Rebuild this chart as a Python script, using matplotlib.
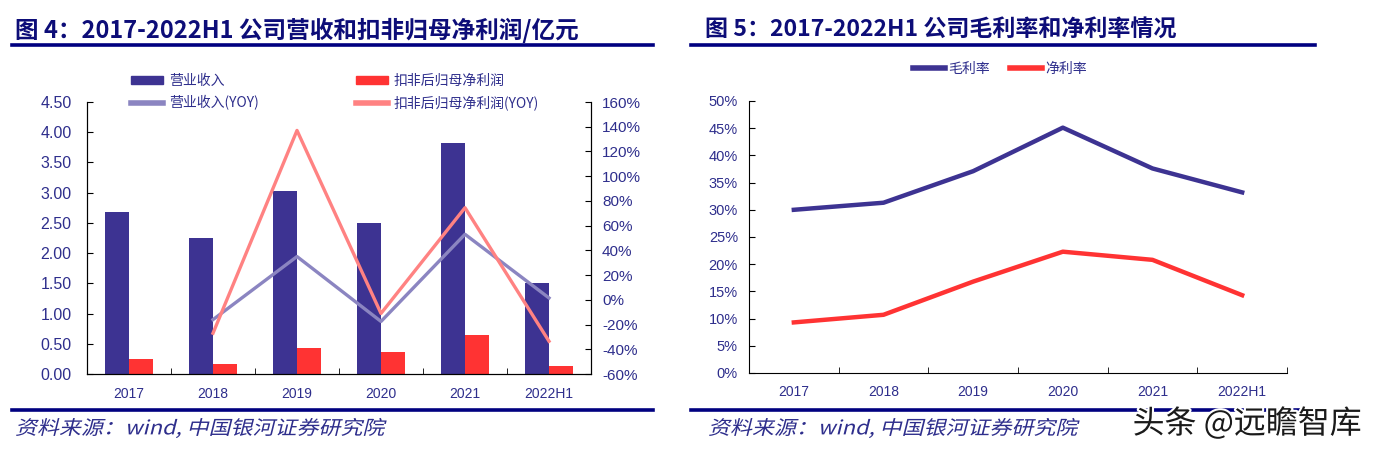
import numpy as np
import matplotlib
matplotlib.use("Agg")
import matplotlib.pyplot as plt
from matplotlib.ticker import FixedLocator, FuncFormatter
from matplotlib.lines import Line2D
from matplotlib.textpath import TextPath
from matplotlib.patches import PathPatch
from matplotlib.font_manager import FontProperties
from matplotlib.transforms import Affine2D, IdentityTransform
import matplotlib.patheffects as pe

plt.rcParams['font.family'] = ['Noto Sans CJK SC', 'DejaVu Sans']

# 数据
years = ['2017', '2018', '2019', '2020', '2021', '2022H1']
revenue = [2.68, 2.25, 3.03, 2.50, 3.82, 1.51]          # 营业收入 亿元
net_profit = [0.24, 0.17, 0.43, 0.37, 0.65, 0.14]       # 扣非后归母净利润 亿元
revenue_yoy = [np.nan, -16, 35, -17.5, 53, 1.5]         # %
profit_yoy = [np.nan, -27, 137, -11, 74.5, -33.5]       # %
gross_margin = [30.0, 31.3, 37.1, 45.1, 37.6, 33.2]     # %
net_margin = [9.3, 10.7, 16.8, 22.3, 20.8, 14.3]        # %

navy = '#3d3392'
red = '#ff3333'
light_navy = '#8b85c1'
light_red = '#ff8282'
txt = '#2e2e8c'
title_c = '#0d0d78'
rule_c = '#000080'
num_font = ['Liberation Sans Narrow', 'Liberation Sans', 'DejaVu Sans']

fig = plt.figure(figsize=(13.75, 4.49), dpi=100)
W, H = 1375.0, 449.0


def fx(px):
    return px / W


def fy(py):
    return 1 - py / H


def style_ticks(ax):
    for lab in ax.get_xticklabels() + ax.get_yticklabels():
        lab.set_family(num_font)
        lab.set_color(txt)


def italic_text(px, py, s, size, color, stretch=1.13):
    # 斜体：CJK字体没有italic，用剪切变换画
    tp = TextPath((0, 0), s, prop=FontProperties(family='Noto Sans CJK SC', size=size))
    k = 100 / 72.0
    tr = Affine2D().scale(k * stretch, k).skew_deg(14, 0).translate(px, H - py - size * k * 0.38)
    fig.add_artist(PathPatch(tp, transform=tr + IdentityTransform(), color=color, lw=0))


x = np.arange(len(years))

# ---------- 图4 ----------
ax1 = fig.add_axes([fx(87), fy(374), fx(591) - fx(87), fy(102) - fy(374)])
bw = 0.29
ax1.bar(x - bw / 2, revenue, bw, color=navy, label='营业收入', zorder=2)
ax1.bar(x + bw / 2, net_profit, bw, color=red, label='扣非后归母净利润', zorder=2)
ax1.set_xlim(-0.5, 5.5)
ax1.set_ylim(0, 4.5)
ax1.set_yticks(np.arange(0, 4.51, 0.5))
ax1.yaxis.set_major_formatter(FuncFormatter(lambda v, p: '%.2f' % v))
ax1.set_xticks(x)
ax1.set_xticklabels(years)
ax1.xaxis.set_minor_locator(FixedLocator(np.arange(0.5, 5, 1)))
ax1.tick_params(axis='x', which='major', length=0, pad=9, labelsize=10)
ax1.tick_params(axis='x', which='minor', direction='in', length=4)
ax1.tick_params(axis='y', direction='in', length=4, labelsize=11.5, pad=11)
ax1.spines['top'].set_visible(False)

ax1b = ax1.twinx()
ax1b.plot(x, revenue_yoy, color=light_navy, lw=2.4, label='营业收入(YOY)', zorder=3)
ax1b.plot(x, profit_yoy, color=light_red, lw=2.4, label='扣非后归母净利润(YOY)', zorder=3)
ax1b.set_ylim(-60, 160)
ax1b.set_yticks(np.arange(-60, 161, 20))
ax1b.yaxis.set_major_formatter(FuncFormatter(lambda v, p: '%d%%' % v))
ax1b.tick_params(axis='y', direction='in', length=4, labelsize=11, pad=8)
ax1b.spines['top'].set_visible(False)
style_ticks(ax1)
style_ticks(ax1b)

handles = [
    plt.Rectangle((0, 0), 1, 1, color=navy),
    Line2D([], [], color=light_navy, lw=4),
    plt.Rectangle((0, 0), 1, 1, color=red),
    Line2D([], [], color=light_red, lw=4),
]
labels = ['营业收入', '营业收入(YOY)', '扣非后归母净利润', '扣非后归母净利润(YOY)']
leg1 = fig.legend(handles, labels, ncol=2, loc='center', bbox_to_anchor=(fx(335), fy(92)),
                  frameon=False, fontsize=10, handlelength=2.3, handleheight=0.5,
                  columnspacing=7, labelspacing=0.55, handletextpad=0.4)
for t in leg1.get_texts():
    t.set_color(txt)

# ---------- 图5 ----------
ax2 = fig.add_axes([fx(749), fy(373), fx(1287) - fx(749), fy(101) - fy(373)])
ax2.plot(x, gross_margin, color=navy, lw=3.2, label='毛利率')
ax2.plot(x, net_margin, color=red, lw=3.2, label='净利率')
ax2.set_xlim(-0.5, 5.5)
ax2.set_ylim(0, 50)
ax2.set_yticks(np.arange(0, 51, 5))
ax2.yaxis.set_major_formatter(FuncFormatter(lambda v, p: '%d%%' % v))
ax2.set_xticks(x)
ax2.set_xticklabels(years)
ax2.xaxis.set_minor_locator(FixedLocator(np.arange(0.5, 6, 1)))
ax2.tick_params(axis='x', which='major', length=0, pad=9, labelsize=10)
ax2.tick_params(axis='x', which='minor', direction='in', length=4)
ax2.tick_params(axis='y', direction='in', length=4, labelsize=10.5, pad=8)
ax2.spines['top'].set_visible(False)
ax2.spines['right'].set_visible(False)
style_ticks(ax2)

leg2 = fig.legend(*ax2.get_legend_handles_labels(), ncol=2, loc='center',
                  bbox_to_anchor=(fx(1000), fy(69)), frameon=False, fontsize=10,
                  handlelength=2.3, columnspacing=1.5, handletextpad=0.2)
for t in leg2.get_texts():
    t.set_color(txt)
for h in leg2.legend_handles:
    h.set_linewidth(4)

# ---------- 标题、横线、资料来源 ----------
fig.text(fx(15), fy(30), '图 4：2017-2022H1 公司营收和扣非归母净利润/亿元', fontsize=17,
         fontweight='bold', color=title_c, va='center', ha='left')
fig.text(fx(705), fy(30), '图 5：2017-2022H1 公司毛利率和净利率情况', fontsize=16.6,
         fontweight='bold', color=title_c, va='center', ha='left')

for x0, x1 in [(12, 653), (691, 1315)]:
    fig.add_artist(Line2D([fx(x0), fx(x1)], [fy(45), fy(45)], color=rule_c, lw=2.6))
    fig.add_artist(Line2D([fx(x0), fx(x1)], [fy(410), fy(410)], color=rule_c, lw=2.6))

italic_text(15, 427, '资料来源：wind, 中国银河证券研究院', 14, txt)
italic_text(708, 427, '资料来源：wind, 中国银河证券研究院', 14, txt)

wm = fig.text(fx(1362), fy(424), '头条 @远瞻智库', fontsize=23, color='#1a1a1a',
              va='center', ha='right')
wm.set_path_effects([pe.withStroke(linewidth=3, foreground='white')])

fig.savefig('out.png', dpi=100)
